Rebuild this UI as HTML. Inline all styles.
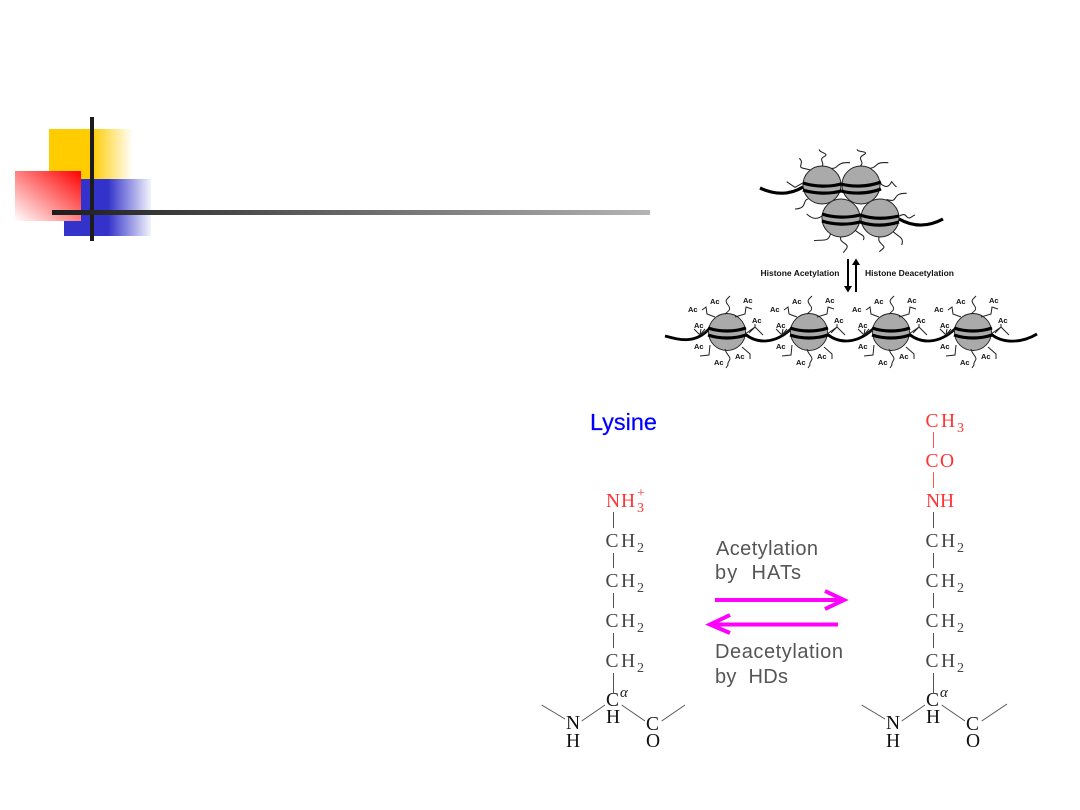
<!DOCTYPE html>
<html><head><meta charset="utf-8">
<style>
html,body{margin:0;padding:0;background:#fff;width:1080px;height:810px;overflow:hidden}
svg{display:block}
.ac{font:bold 7.5px "Liberation Sans",sans-serif;fill:#111}
.t{fill:none;stroke:#222;stroke-width:1}
.ch{font-family:"Liberation Serif",serif;font-size:19.500px;fill:#444}
.sub{font-family:"Liberation Serif",serif;font-size:14px;fill:#444}
.r{fill:#f33}
.lab{font-family:"Liberation Sans",sans-serif;font-size:20px;fill:#555}
</style></head><body>
<svg width="1080" height="810" viewBox="0 0 1080 810" xmlns="http://www.w3.org/2000/svg">
<defs>
<linearGradient id="gy"><stop offset="0" stop-color="#ffcc00"/><stop offset="1" stop-color="#fff"/></linearGradient>
<linearGradient id="gb"><stop offset="0" stop-color="#3333cc"/><stop offset="1" stop-color="#f4f4fc"/></linearGradient>
<linearGradient id="gr" x1="1" y1="0" x2="0" y2="1"><stop offset="0" stop-color="#ff0000"/><stop offset="1" stop-color="#fff"/></linearGradient>
<linearGradient id="gk"><stop offset="0" stop-color="#1c1c1c"/><stop offset="1" stop-color="#b4b4b4"/></linearGradient>
<g id="nuc">
<circle cx="0" cy="0" r="18.5" fill="#aaa" stroke="#222" stroke-width=".9"/>
<path d="M-19,-4C-7,0 7,0 19,-4" fill="none" stroke="#000" stroke-width="3.200"/>
<path d="M-19,3C-7,7 7,7 19,3" fill="none" stroke="#000" stroke-width="3.200"/>
<g class="t">
<path d="M-2,-18C3,-22 4,-23 1,-27S-1,-32 1,-34L3,-36"/>
<path d="M-12,-15L-20,-18L-21,-25L-25,-22"/>
<path d="M8,-15L18,-18L19,-25L25,-23"/>
<path d="M-18,-2L-27,3L-33,-3M-27,3L-26,-3M-27,3L-22,-3"/>
<path d="M18,2L28,-5L28,-8M28,-5L36,3M28,-5L22,1"/>
<path d="M-17,13L-18,23L-27,24"/>
<path d="M-2,17C-1,22 3,24 3,27C2,30 0,31 1,33L-1,36"/>
<path d="M15,15L23,22L23,27"/>
</g>
</g>
</defs>

<!-- logo squares -->
<rect x="49" y="129" width="43" height="50" fill="#ffcc00"/>
<rect x="92" y="129" width="41" height="50" fill="url(#gy)"/>
<rect x="64" y="179" width="45" height="57" fill="#3333cc"/>
<rect x="108" y="179" width="43" height="57" fill="url(#gb)"/>
<rect x="15" y="171" width="66" height="50" fill="url(#gr)"/>
<rect x="90" y="117" width="4" height="124" fill="#1c1c1c"/>
<rect x="52" y="210" width="598" height="5" fill="url(#gk)"/>

<g style="filter:blur(.3px)">
<!-- top nucleosome cluster -->
<g transform="translate(740,140) scale(.3333)" fill="none" stroke="#222" stroke-width="3.200">
<path d="M240,85C262,70 232,60 252,50S235,38 238,28"/>
<path d="M212,90L190,85C170,80 195,70 178,55"/>
<path d="M272,85C298,88 285,65 330,68"/>
<path d="M190,128L165,142L140,125"/>
<path d="M358,80C380,65 347,58 370,45S350,38 352,28"/>
<path d="M388,85C418,82 398,65 445,68"/>
<path d="M420,130C435,142 445,145 455,125C460,130 465,140 470,140"/>
<path d="M205,177C185,180 205,205 165,207"/>
<path d="M250,225C235,238 220,240 200,222"/>
<path d="M272,280C265,308 250,298 222,302"/>
<path d="M305,285C290,310 330,308 320,325L310,338"/>
<path d="M345,270C360,285 378,285 370,300"/>
<path d="M420,285C405,310 440,315 430,325L418,335"/>
<path d="M455,270C470,290 495,290 485,315"/>
<path d="M440,178C480,192 450,158 500,160"/>
<path d="M478,228C490,222 495,222 500,230C510,240 515,228 525,225"/>
</g>
<circle cx="822" cy="185" r="19" fill="#aaa" stroke="#222" stroke-width="1"/>
<circle cx="861" cy="185" r="19" fill="#aaa" stroke="#222" stroke-width="1"/>
<circle cx="841" cy="218" r="19" fill="#aaa" stroke="#222" stroke-width="1"/>
<circle cx="880" cy="218" r="19" fill="#aaa" stroke="#222" stroke-width="1"/>
<g fill="none" stroke="#000" stroke-width="3.200">
<path d="M760,188C775,195 790,195 803,187"/>
<path d="M803,183C815,187 830,187 841,184C852,187 868,187 881,182"/>
<path d="M803,190C815,194 830,194 841,191C852,194 868,194 881,189"/>
<path d="M822,214C834,218 848,218 860,215C872,219 886,219 899,216"/>
<path d="M822,221C834,225 848,225 860,222C872,226 886,226 899,222"/>
<path d="M899,219C915,228 930,226 943,219"/>
</g>
<text x="760.5" y="276" textLength="79" lengthAdjust="spacingAndGlyphs" font-family="Liberation Sans, sans-serif" font-weight="bold" font-size="8" fill="#111">Histone Acetylation</text>
<text x="865" y="276" textLength="89" lengthAdjust="spacingAndGlyphs" font-family="Liberation Sans, sans-serif" font-weight="bold" font-size="8" fill="#111">Histone Deacetylation</text>
<path d="M848,259V288" stroke="#000" stroke-width="2" fill="none"/>
<path d="M844,286L848,292.500L852,286Z" fill="#000"/>
<path d="M856,292V263" stroke="#000" stroke-width="2" fill="none"/>
<path d="M852,265L856,258.500L860,265Z" fill="#000"/>

<!-- acetylated strand -->
<path d="M665,336C680,340 695,344 709,329M745,334C757,344 775,344 791,329M827,334C839,344 857,344 873,329M909,334C921,344 939,344 955,329M991,334C1003,344 1022,343 1037,334" fill="none" stroke="#000" stroke-width="2.800"/>
<use href="#nuc" x="727" y="332"/>
<use href="#nuc" x="809" y="332"/>
<use href="#nuc" x="891" y="332"/>
<use href="#nuc" x="973" y="332"/>
<g class="ac">
<g transform="translate(727,332)"><text x="-17" y="-28">Ac</text><text x="-39" y="-20">Ac</text><text x="16" y="-29">Ac</text><text x="25" y="-9">Ac</text><text x="-33" y="-4">Ac</text><text x="-33" y="17">Ac</text><text x="8" y="27">Ac</text><text x="-13" y="33">Ac</text></g>
<g transform="translate(809,332)"><text x="-17" y="-28">Ac</text><text x="-39" y="-20">Ac</text><text x="16" y="-29">Ac</text><text x="25" y="-9">Ac</text><text x="-33" y="-4">Ac</text><text x="-33" y="17">Ac</text><text x="8" y="27">Ac</text><text x="-13" y="33">Ac</text></g>
<g transform="translate(891,332)"><text x="-17" y="-28">Ac</text><text x="-39" y="-20">Ac</text><text x="16" y="-29">Ac</text><text x="25" y="-9">Ac</text><text x="-33" y="-4">Ac</text><text x="-33" y="17">Ac</text><text x="8" y="27">Ac</text><text x="-13" y="33">Ac</text></g>
<g transform="translate(973,332)"><text x="-17" y="-28">Ac</text><text x="-39" y="-20">Ac</text><text x="16" y="-29">Ac</text><text x="25" y="-9">Ac</text><text x="-33" y="-4">Ac</text><text x="-33" y="17">Ac</text><text x="8" y="27">Ac</text><text x="-13" y="33">Ac</text></g>
</g>
</g>

<!-- Lysine -->
<text x="590" y="430" textLength="67" lengthAdjust="spacingAndGlyphs" font-family="Liberation Sans, sans-serif" font-size="23" fill="#0000ff" stroke="#0000ff" stroke-width=".2">Lysine</text>

<g stroke="#555" stroke-width="1" fill="none">
<path d="M613.500,512V528M613.500,553V568M613.500,593V608M613.500,633V648M613.500,673V693"/>
<path d="M541.700,705L565,719M581.700,721L605,705M621.700,705L645,721M661.700,721L685,705"/>
<path d="M933.500,512V528M933.500,553V568M933.500,593V608M933.500,633V648M933.500,673V693"/>
<path d="M861.700,705L885,719M901.700,721L925,705M941.700,705L965,721M981.700,721L1007,704"/>
</g>
<g stroke="#f55" stroke-width="1" fill="none"><path d="M933.500,432V448M933.500,472V488"/></g>

<!-- left chain -->
<text class="ch r" x="606 621" y="507">NH</text><text class="sub r" x="637" y="512">3</text><text class="sub r" x="637" y="497">+</text>
<text class="ch" x="605.500 621" y="547">CH</text><text class="sub" x="637" y="552">2</text>
<text class="ch" x="605.500 621" y="587">CH</text><text class="sub" x="637" y="592">2</text>
<text class="ch" x="605.500 621" y="627">CH</text><text class="sub" x="637" y="632">2</text>
<text class="ch" x="605.500 621" y="667">CH</text><text class="sub" x="637" y="672">2</text>
<text class="ch" x="606" y="706" style="fill:#111">C</text><text x="620" y="697" font-family="Liberation Serif, serif" font-style="italic" font-size="15" fill="#222">α</text>
<text class="ch" x="606" y="723" style="fill:#111">H</text>
<text class="ch" x="566" y="729" style="fill:#111">N</text><text class="ch" x="566" y="747" style="fill:#111">H</text>
<text class="ch" x="646" y="730" style="fill:#111">C</text><text class="ch" x="646" y="747" style="fill:#111">O</text>

<!-- right chain -->
<text class="ch r" x="925.500 941" y="427">CH</text><text class="sub r" x="957" y="432">3</text>
<text class="ch r" x="925.500 940" y="467">CO</text>
<text class="ch r" x="926 940" y="507">NH</text>
<text class="ch" x="925.500 941" y="547">CH</text><text class="sub" x="957" y="552">2</text>
<text class="ch" x="925.500 941" y="587">CH</text><text class="sub" x="957" y="592">2</text>
<text class="ch" x="925.500 941" y="627">CH</text><text class="sub" x="957" y="632">2</text>
<text class="ch" x="925.500 941" y="667">CH</text><text class="sub" x="957" y="672">2</text>
<text class="ch" x="926" y="706" style="fill:#111">C</text><text x="940" y="697" font-family="Liberation Serif, serif" font-style="italic" font-size="15" fill="#222">α</text>
<text class="ch" x="926" y="723" style="fill:#111">H</text>
<text class="ch" x="886" y="729" style="fill:#111">N</text><text class="ch" x="886" y="747" style="fill:#111">H</text>
<text class="ch" x="966" y="730" style="fill:#111">C</text><text class="ch" x="966" y="747" style="fill:#111">O</text>

<!-- reaction labels and arrows -->
<text class="lab" x="716" y="555" textLength="102" lengthAdjust="spacing">Acetylation</text>
<text class="lab" x="715" y="579" textLength="86" lengthAdjust="spacing" xml:space="preserve">by  HATs</text>
<text class="lab" x="715" y="658" textLength="128" lengthAdjust="spacing">Deacetylation</text>
<text class="lab" x="715" y="683" textLength="73" lengthAdjust="spacing" xml:space="preserve">by  HDs</text>
<g fill="none" stroke="#ff00ff" stroke-width="4">
<path d="M715,600H843M825,591L844,600L825,609"/>
<path d="M838,624.500H710M730,615L710,624.500L730,633"/>
</g>
</svg>
</body></html>
